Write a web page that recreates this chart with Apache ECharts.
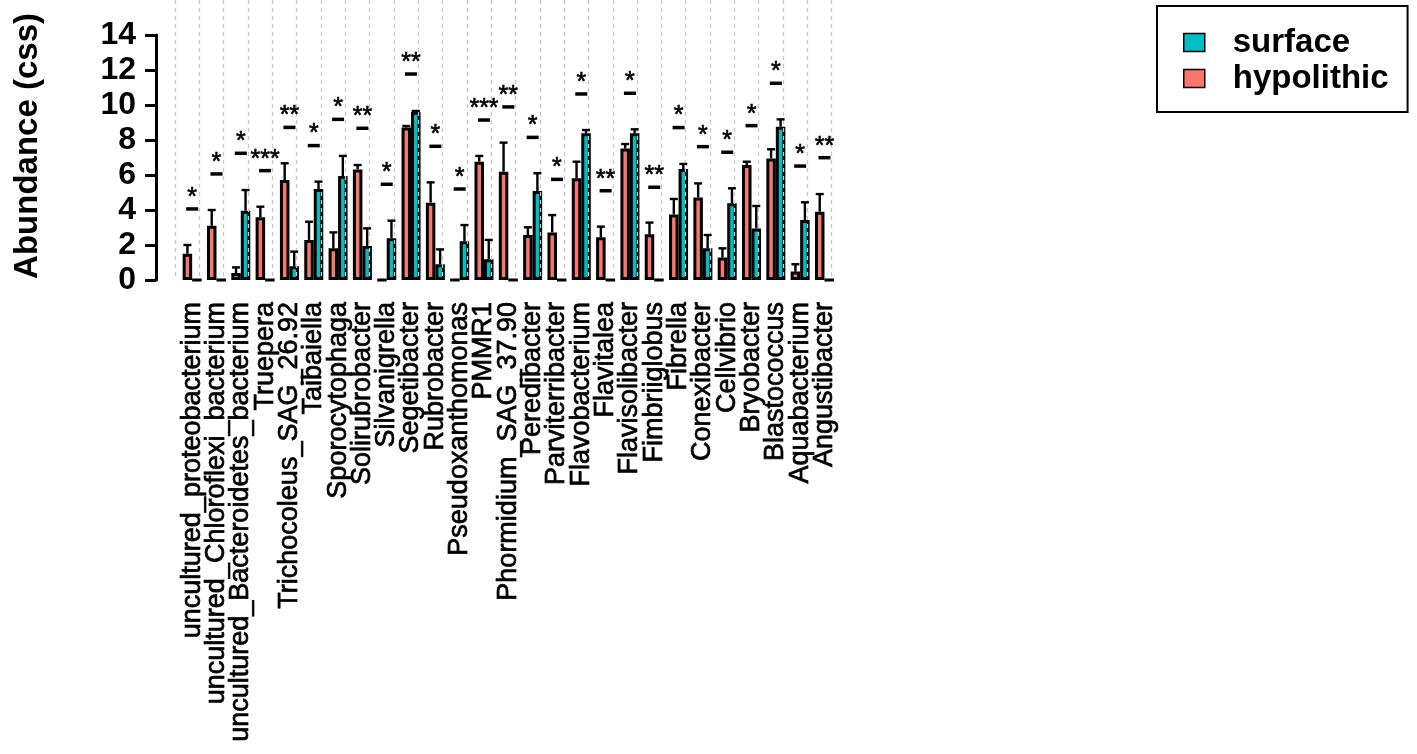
<!DOCTYPE html>
<html>
<head>
<meta charset="utf-8">
<script src="https://cdn.jsdelivr.net/npm/echarts@6/dist/echarts.min.js"></script>
<style>
html,body{margin:0;padding:0;background:#fff;}
#chart{width:1417px;height:754px;}
</style>
</head>
<body>
<div id="chart"></div>
<script>
const categories = ['uncultured_proteobacterium','uncultured_Chloroflexi_bacterium','uncultured_Bacteroidetes_bacterium','Truepera','Trichocoleus_SAG_26.92','Taibaiella','Sporocytophaga','Solirubrobacter','Silvanigrella','Segetibacter','Rubrobacter','Pseudoxanthomonas','PMMR1','Phormidium_SAG_37.90','Peredibacter','Parviterribacter','Flavobacterium','Flavitalea','Flavisolibacter','Fimbriiglobus','Fibrella','Conexibacter','Cellvibrio','Bryobacter','Blastococcus','Aquabacterium','Angustibacter'];
const hypolithic = [1.5, 3.1, 0.4, 3.58, 5.71, 2.29, 1.81, 6.32, 0, 8.72, 4.42, 0, 6.76, 6.19, 2.57, 2.72, 5.81, 2.44, 7.52, 2.61, 3.75, 4.72, 1.28, 6.57, 6.95, 0.48, 3.9];
const hypolithicUpper = [2.0, 4.0, 0.72, 4.19, 6.67, 3.33, 2.72, 6.57, 0, 8.8, 5.58, 0, 7.09, 7.85, 3.01, 3.71, 6.76, 3.05, 7.77, 3.28, 4.63, 5.52, 1.81, 6.76, 7.47, 0.9, 4.91];
const surface = [0, 0, 3.96, 0, 0.78, 5.2, 5.94, 1.94, 2.38, 9.62, 0.9, 2.21, 1.18, 0, 5.09, 0, 8.38, 0, 8.38, 0, 6.34, 1.81, 4.38, 2.95, 8.76, 3.43, 0];
const surfaceUpper = [0, 0, 5.14, 0, 1.62, 5.62, 7.09, 2.95, 3.39, 9.66, 1.75, 3.14, 2.29, 0, 6.1, 0, 8.57, 0, 8.61, 0, 6.63, 2.57, 5.24, 4.23, 9.18, 4.44, 0];
const sigLevel = [4.06, 6.06, 7.24, 6.25, 8.72, 7.68, 9.18, 8.67, 5.47, 11.77, 7.64, 5.2, 9.14, 9.89, 8.15, 5.75, 10.63, 5.1, 10.67, 5.3, 8.71, 7.62, 7.3, 8.82, 11.24, 6.51, 6.99];
const stars = ['*','*','*','***','**','*','*','**','*','**','*','*','***','**','*','*','*','**','*','**','*','*','*','*','*','*','**'];
const yTicks = [0, 2, 4, 6, 8, 10, 12, 14];

const FONT = '"Liberation Sans", Arial, Helvetica, sans-serif';
const RED = '#F8766D', CYAN = '#00BFC4';
const BAR_W = 9.5;
const CAT_W = 24.32;
const N = categories.length;

function errRender(sign) {
  return function (params, api) {
    const i = api.value(0), v = api.value(1), u = api.value(2);
    if (!(u > v)) return null;
    const p0 = api.coord([i, v]);
    const p1 = api.coord([i, u]);
    const x = p0[0] + sign * BAR_W / 2;
    return {
      type: 'group',
      children: [
        {type: 'line', shape: {x1: x, y1: p0[1], x2: x, y2: p1[1]}, style: {stroke: '#000', lineWidth: 2.4}},
        {type: 'line', shape: {x1: x - 4, y1: p1[1], x2: x + 4, y2: p1[1]}, style: {stroke: '#000', lineWidth: 2.4}}
      ]
    };
  };
}

const chart = echarts.init(document.getElementById('chart'));
chart.setOption({
  backgroundColor: '#fff',
  animation: false,
  textStyle: {fontFamily: FONT},
  grid: [
    {left: 180, top: 35, width: N * CAT_W, height: 245},
    {left: 175, top: 0, width: N * CAT_W, height: 280}
  ],
  graphic: [{
    type: 'text',
    left: 11, top: 13,
    rotation: Math.PI / 2,
    style: {text: 'Abundance (css)', font: 'bold 33px ' + FONT, fill: '#000'}
  }],
  legend: {
    data: ['surface', 'hypolithic'],
    orient: 'vertical',
    left: 1157, top: 6,
    padding: [20, 19, 17, 26],
    itemWidth: 21, itemHeight: 18, itemGap: 3,
    borderColor: '#000', borderWidth: 2,
    selectedMode: false,
    icon: 'rect',
    itemStyle: {borderColor: '#000', borderWidth: 1.5},
    textStyle: {fontSize: 33, fontWeight: 'bold', color: '#000', fontFamily: FONT, lineHeight: 33, padding: [0, 0, 0, 23]}
  },
  xAxis: [
    {
      type: 'category', gridIndex: 0, data: categories, boundaryGap: true,
      axisLine: {show: false}, axisTick: {show: false}, splitLine: {show: false},
      axisLabel: {rotate: 90, interval: 0, margin: 22, fontSize: 27, color: '#000', fontFamily: FONT,
        textBorderColor: '#000', textBorderWidth: 0.7}
    },
    {
      type: 'value', gridIndex: 1, min: 0, max: N, interval: 1, z: 3,
      axisLine: {show: false}, axisTick: {show: false}, axisLabel: {show: false},
      splitLine: {show: true, lineStyle: {color: '#c8c8c8', type: [4, 4], width: 1.3}}
    }
  ],
  yAxis: [
    {
      type: 'value', gridIndex: 0, min: 0, max: 14, interval: 2, offset: 24,
      axisLine: {show: true, lineStyle: {color: '#000', width: 3}},
      axisTick: {show: true, length: 11, lineStyle: {color: '#000', width: 3}},
      splitLine: {show: false},
      axisLabel: {margin: 20, fontSize: 32, fontWeight: 'bold', color: '#000', fontFamily: FONT,
        formatter: v => yTicks.indexOf(v) >= 0 ? String(v) : ''}
    },
    {type: 'value', gridIndex: 1, min: 0, max: 1, show: false}
  ],
  series: [
    {
      name: 'hypolithic', type: 'bar', xAxisIndex: 0, yAxisIndex: 0,
      data: hypolithic, barWidth: BAR_W, barGap: '0%',
      itemStyle: {color: RED, borderColor: '#000', borderWidth: 3}
    },
    {
      name: 'surface', type: 'bar', xAxisIndex: 0, yAxisIndex: 0,
      data: surface, barWidth: BAR_W, barGap: '0%',
      itemStyle: {color: CYAN, borderColor: '#000', borderWidth: 3}
    },
    {
      name: 'hypolithic_err', type: 'custom', xAxisIndex: 0, yAxisIndex: 0, z: 4,
      renderItem: errRender(-1), encode: {x: 0, y: [1, 2]},
      data: categories.map((c, i) => [i, hypolithic[i], hypolithicUpper[i]])
    },
    {
      name: 'surface_err', type: 'custom', xAxisIndex: 0, yAxisIndex: 0, z: 4,
      renderItem: errRender(1), encode: {x: 0, y: [1, 2]},
      data: categories.map((c, i) => [i, surface[i], surfaceUpper[i]])
    },
    {
      name: 'sig', type: 'scatter', xAxisIndex: 0, yAxisIndex: 0, z: 5,
      symbol: 'rect', symbolSize: [12, 3.5],
      itemStyle: {color: '#000', opacity: 1},
      emphasis: {disabled: true},
      data: categories.map((c, i) => [i, sigLevel[i]]),
      label: {
        show: true, position: 'inside', offset: [0, -11],
        formatter: p => stars[p.dataIndex],
        fontSize: 25, color: '#000', fontFamily: FONT,
        textBorderColor: '#000', textBorderWidth: 0.6
      }
    }
  ]
});
</script>
</body>
</html>
